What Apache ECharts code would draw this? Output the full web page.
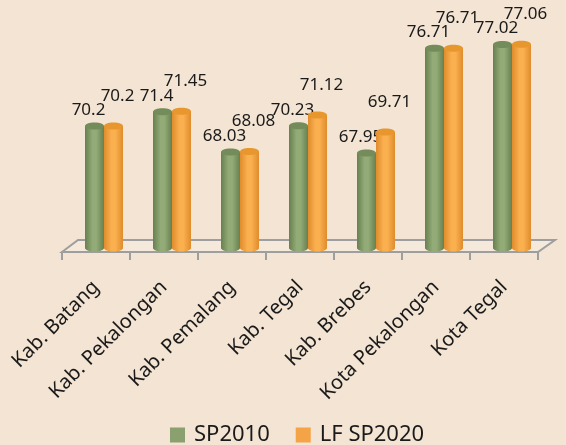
<!DOCTYPE html>
<html>
<head>
<meta charset="utf-8">
<script src="https://cdn.jsdelivr.net/npm/echarts@6/dist/echarts.min.js"></script>
<style>
  html, body { margin: 0; padding: 0; background: #f3e4d3; }
  #chart { width: 566px; height: 445px; }
</style>
</head>
<body>
<div id="chart"></div>
<script>
// data
const regions = ['Kab. Batang', 'Kab. Pekalongan', 'Kab. Pemalang', 'Kab. Tegal',
                 'Kab. Brebes', 'Kota Pekalongan', 'Kota Tegal'];
const sp2010 = [70.2, 71.4, 68.03, 70.23, 67.95, 76.71, 77.02];
const lf2020 = [70.2, 71.45, 68.08, 71.12, 69.71, 76.71, 77.06];
const seriesNames = ['SP2010', 'LF SP2020'];

const BASE = 60;
const FONT = '"Noto Sans", sans-serif';

// cylinder drawn from the category/value scales
function cylinder(side, light, dark, top, labelDx, labelDy) {
    return function (params, api) {
        const cat = api.value(0);
        const val = api.value(1);
        const w = 19;
        const pTop = api.coord([cat, val]);
        const pBot = api.coord([cat, BASE]);
        const cx = pTop[0] + side * w / 2;
        const ry = 3.5;
        const grad = new echarts.graphic.LinearGradient(0, 0, 1, 0, [
            { offset: 0, color: dark },
            { offset: 0.4, color: light },
            { offset: 0.6, color: light },
            { offset: 1, color: dark },
        ]);
        return {
            type: 'group',
            children: [
                { type: 'ellipse', shape: { cx: cx, cy: pBot[1], rx: w / 2, ry: ry }, style: { fill: grad } },
                { type: 'rect', shape: { x: cx - w / 2, y: pTop[1], width: w, height: pBot[1] - pTop[1] }, style: { fill: grad } },
                { type: 'ellipse', shape: { cx: cx, cy: pTop[1], rx: w / 2, ry: ry }, style: { fill: top } },
                {
                    type: 'text',
                    style: {
                        text: String(val), x: cx + labelDx, y: pTop[1] - labelDy,
                        align: 'center', verticalAlign: 'middle',
                        font: '17px ' + FONT, fill: '#1a1a1a',
                    },
                },
            ],
        };
    };
}

const chart = echarts.init(document.getElementById('chart'), null, { renderer: 'canvas' });
chart.setOption({
    backgroundColor: '#f3e4d3',
    animation: false,
    grid: [
        { left: 70, right: 20, top: 9, bottom: 197 },
        { left: 62, right: 28, top: 9, bottom: 193 },
    ],
    xAxis: [
        { type: 'category', gridIndex: 0, data: regions, show: false },
        {
            type: 'category', gridIndex: 1, data: regions,
            axisLine: { show: true, lineStyle: { color: '#9e9e9e', width: 2 } },
            axisTick: { show: true, length: 8, alignWithLabel: false, lineStyle: { color: '#9e9e9e', width: 2 } },
            axisLabel: { rotate: 45, margin: 32, fontSize: 20, fontFamily: FONT, color: '#1a1a1a' },
        },
    ],
    yAxis: [
        { type: 'value', gridIndex: 0, min: BASE, max: 80, show: false },
        { type: 'value', gridIndex: 1, min: BASE, max: 80, show: false },
    ],
    legend: {
        left: 165, top: 419,
        itemWidth: 15, itemHeight: 15, itemGap: 26,
        icon: 'rect',
        textStyle: { fontSize: 22, fontFamily: FONT, color: '#1a1a1a', padding: [0, 0, 0, 4] },
        data: seriesNames,
    },
    graphic: [{
        type: 'polygon',
        z: 0,
        shape: { points: [[62, 252], [78, 240], [555, 240], [538, 252]] },
        style: { fill: 'rgba(255,255,255,0.18)', stroke: '#9e9e9e', lineWidth: 2 },
    }],
    series: [
        {
            name: seriesNames[0], type: 'custom', xAxisIndex: 0, yAxisIndex: 0,
            itemStyle: { color: '#8aa06f' },
            renderItem: cylinder(-1, '#93ab77', '#67804f', '#738c5a', -6, 16),
            data: sp2010.map((v, i) => [i, v]),
            z: 3,
        },
        {
            name: seriesNames[1], type: 'custom', xAxisIndex: 0, yAxisIndex: 0,
            itemStyle: { color: '#f4a446' },
            renderItem: cylinder(1, '#fbb050', '#df8c2c', '#e8972f', 4, 30),
            data: lf2020.map((v, i) => [i, v]),
            z: 3,
        },
    ],
});
</script>
</body>
</html>
